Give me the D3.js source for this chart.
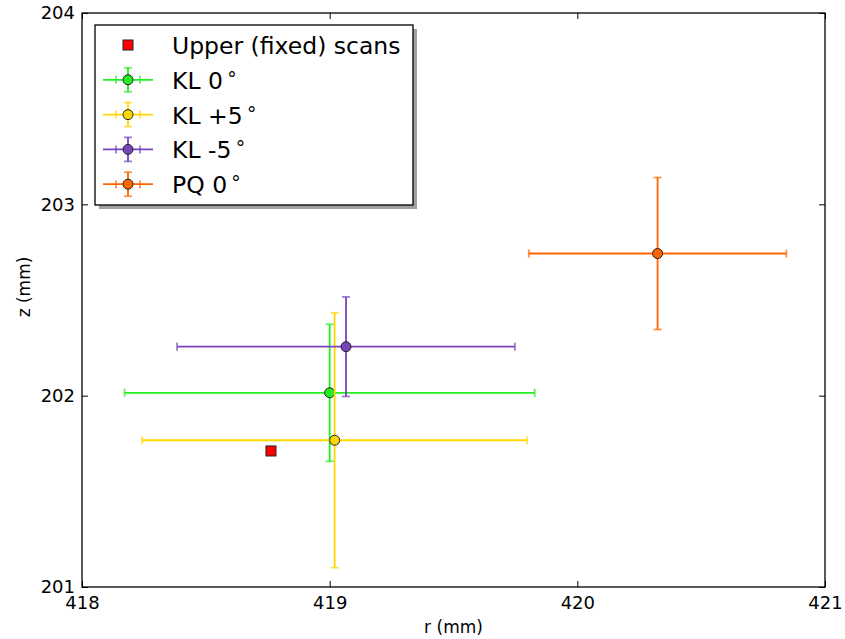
<!DOCTYPE html>
<html>
<head>
<meta charset="utf-8">
<script src="https://cdn.jsdelivr.net/npm/d3@7"></script>
<style>
  body { margin: 0; background: #fff; }
  text { font-family: "DejaVu Sans", sans-serif; }
</style>
</head>
<body>
<script>
// series: centre r, centre z, half-width in r and in z
var seriesNames = ["KL 0", "KL +5", "KL -5", "PQ 0"];
var seriesColors = ["#22ee22", "#ffd700", "#7744bb", "#ff6600"];
var rValues = [419.00, 419.02, 419.066, 420.324];
var zValues = [202.015, 201.767, 202.256, 202.743];
var rErrors = [0.828, 0.777, 0.682, 0.52];
var zErrors = [0.358, 0.666, 0.26, 0.397];

// single fixed scan point
var fixedR = [418.763];
var fixedZ = [201.711];

var xTicks = [418, 419, 420, 421];
var yTicks = [201, 202, 203, 204];

var graphMargin = {top: 13, bottom: 52, right: 20, left: 82};
var totalW = 845, totalH = 639;
var width = totalW - graphMargin.left - graphMargin.right;
var height = totalH - graphMargin.top - graphMargin.bottom;

var x = d3.scaleLinear().domain([418, 421]).range([0, width]);
var y = d3.scaleLinear().domain([201, 204]).range([height, 0]);

var svg = d3.select("body").append("svg")
    .attr("width", totalW)
    .attr("height", totalH)
  .append("g")
    .attr("transform", "translate(" + graphMargin.left + "," + graphMargin.top + ")");

var data = seriesNames.map(function(n, i) {
  return {name: n, color: seriesColors[i], r: rValues[i], z: zValues[i], er: rErrors[i], ez: zErrors[i]};
});

// error bars
var cap = 4;
var bars = svg.selectAll(".bar").data(data).enter().append("g").attr("class", "bar");
bars.append("line")
    .attr("x1", function(d) { return x(d.r - d.er); })
    .attr("x2", function(d) { return x(d.r + d.er); })
    .attr("y1", function(d) { return y(d.z); })
    .attr("y2", function(d) { return y(d.z); })
    .attr("stroke", function(d) { return d.color; }).attr("stroke-width", 1.8);
bars.append("line")
    .attr("x1", function(d) { return x(d.r); })
    .attr("x2", function(d) { return x(d.r); })
    .attr("y1", function(d) { return y(d.z - d.ez); })
    .attr("y2", function(d) { return y(d.z + d.ez); })
    .attr("stroke", function(d) { return d.color; }).attr("stroke-width", 1.8);
[-1, 1].forEach(function(s) {
  bars.append("line")
      .attr("x1", function(d) { return x(d.r + s * d.er); })
      .attr("x2", function(d) { return x(d.r + s * d.er); })
      .attr("y1", function(d) { return y(d.z) - cap; })
      .attr("y2", function(d) { return y(d.z) + cap; })
      .attr("stroke", function(d) { return d.color; }).attr("stroke-width", 1.8).attr("opacity", 0.7);
  bars.append("line")
      .attr("x1", function(d) { return x(d.r) - cap; })
      .attr("x2", function(d) { return x(d.r) + cap; })
      .attr("y1", function(d) { return y(d.z + s * d.ez); })
      .attr("y2", function(d) { return y(d.z + s * d.ez); })
      .attr("stroke", function(d) { return d.color; }).attr("stroke-width", 1.8).attr("opacity", 0.7);
});
bars.append("circle")
    .attr("cx", function(d) { return x(d.r); })
    .attr("cy", function(d) { return y(d.z); })
    .attr("r", 5)
    .attr("fill", function(d) { return d.color; })
    .attr("stroke", "#222").attr("stroke-width", 1);

// fixed scan square
svg.selectAll(".fixed").data(fixedR).enter().append("rect")
    .attr("x", function(d) { return x(d) - 5; })
    .attr("y", function(d, i) { return y(fixedZ[i]) - 5; })
    .attr("width", 10).attr("height", 10)
    .attr("fill", "#ff0000").attr("stroke", "#222").attr("stroke-width", 1);

// frame and axes (ticks inward on all sides)
svg.append("rect").attr("width", width).attr("height", height)
    .attr("fill", "none").attr("stroke", "#000").attr("stroke-width", 1.3);

var tl = 6;
var xb = svg.append("g").attr("transform", "translate(0," + height + ")")
    .call(d3.axisBottom(x).tickValues(xTicks).tickFormat(d3.format("d")).tickSizeInner(-tl).tickSizeOuter(0).tickPadding(9));
var xt = svg.append("g")
    .call(d3.axisTop(x).tickValues(xTicks).tickFormat("").tickSizeInner(-tl).tickSizeOuter(0));
var yl = svg.append("g")
    .call(d3.axisLeft(y).tickValues(yTicks).tickFormat(d3.format("d")).tickSizeInner(-tl).tickSizeOuter(0).tickPadding(7));
var yr = svg.append("g").attr("transform", "translate(" + width + ",0)")
    .call(d3.axisRight(y).tickValues(yTicks).tickFormat("").tickSizeInner(-tl).tickSizeOuter(0));
[xb, xt, yl, yr].forEach(function(a) {
  a.select(".domain").remove();
  a.selectAll("line").attr("stroke", "#000");
  a.selectAll("text").style("font-size", "18px").attr("fill", "#000");
});

svg.append("text")
    .attr("x", width / 2).attr("y", height + 46)
    .style("text-anchor", "middle").style("font-size", "17px")
    .text("r (mm)");
svg.append("text")
    .attr("transform", "rotate(-90)")
    .attr("x", -height / 2 + 13).attr("y", -52)
    .style("text-anchor", "middle").style("font-size", "17px")
    .text("z (mm)");

// legend
var lg = svg.append("g").attr("transform", "translate(13,12)");
var lw = 318, lh = 180;
lg.append("rect").attr("x", 4).attr("y", 4).attr("width", lw).attr("height", lh).attr("fill", "#a0a0a0");
lg.append("rect").attr("width", lw).attr("height", lh).attr("fill", "#fff").attr("stroke", "#000").attr("stroke-width", 1.3);

var rowY = function(i) { return 20 + i * 34.8; };
lg.append("rect").attr("x", 33 - 5).attr("y", rowY(0) - 5).attr("width", 10).attr("height", 10)
    .attr("fill", "#ff0000").attr("stroke", "#222");
lg.append("text").attr("x", 77).attr("y", rowY(0) + 9).style("font-size", "23.5px").text("Upper (fixed) scans");

data.forEach(function(d, i) {
  var cy = rowY(i + 1), cx = 33;
  var g = lg.append("g");
  g.append("line").attr("x1", cx - 25).attr("x2", cx + 25).attr("y1", cy).attr("y2", cy).attr("stroke", d.color).attr("stroke-width", 1.8);
  g.append("line").attr("x1", cx).attr("x2", cx).attr("y1", cy - 12).attr("y2", cy + 12).attr("stroke", d.color).attr("stroke-width", 1.8);
  [-12, 12].forEach(function(o) {
    g.append("line").attr("x1", cx + o).attr("x2", cx + o).attr("y1", cy - cap).attr("y2", cy + cap).attr("stroke", d.color).attr("stroke-width", 1.8).attr("opacity", 0.7);
    g.append("line").attr("x1", cx - cap).attr("x2", cx + cap).attr("y1", cy + o).attr("y2", cy + o).attr("stroke", d.color).attr("stroke-width", 1.8).attr("opacity", 0.7);
  });
  g.append("circle").attr("cx", cx).attr("cy", cy).attr("r", 5).attr("fill", d.color).attr("stroke", "#222");
  var t = lg.append("text").attr("x", 77).attr("y", cy + 9).style("font-size", "23.5px");
  t.append("tspan").text(d.name);
  t.append("tspan").attr("dx", 3).attr("dy", -9).style("font-size", "19px").text("\u2218");
});
</script>
</body>
</html>
